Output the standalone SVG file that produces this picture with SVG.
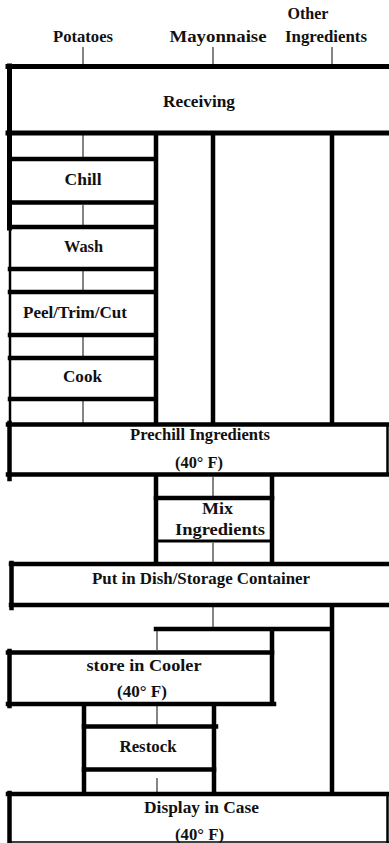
<svg xmlns="http://www.w3.org/2000/svg" width="389" height="843" viewBox="0 0 389 843">
<style>
text{font-family:"Liberation Serif","Times New Roman",serif;font-weight:bold;font-size:17px;fill:#111;text-anchor:middle}
.thick{stroke:#000;stroke-width:4.5;fill:none;stroke-linecap:square}
.edge{stroke:#000;stroke-width:2.5;fill:none}
.thin{stroke:#444;stroke-width:1.3;fill:none}
.hair{stroke:#000;stroke-width:1.6;fill:none}
</style>
<rect width="389" height="843" fill="#fff"/>

<g id="connectors">
  <path class="thin" d="M83 47V64M213 47V64M332 47V64"/>
  <path class="thin" d="M83 135V157M83 205V225M83 271V290M83 337V356M83 401V423"/>
  <path class="thick" d="M156 135V423M213 135V423M332 135V423"/>
  <path class="thick" d="M156 477V562M272 477V562"/>
  <path class="thin" d="M213 477V496M213 543V562"/>
  <path class="thin" d="M213 607V627"/>
  <path class="thick" d="M156 629H332M332 607V792M272 629V702"/>
  <path class="thin" d="M157 631V650"/>
  <path class="thick" d="M84 706V792M214 706V792"/>
  <path class="thin" d="M157 706V725M157 778V792"/>
  <path class="edge" d="M10 229V423"/>
</g>

<g id="labels">
  <text x="83" y="42" textLength="60" lengthAdjust="spacingAndGlyphs">Potatoes</text>
  <text x="218" y="42" textLength="97" lengthAdjust="spacingAndGlyphs">Mayonnaise</text>
  <text x="308" y="19" textLength="41" lengthAdjust="spacingAndGlyphs">Other</text>
  <text x="326" y="42" textLength="82" lengthAdjust="spacingAndGlyphs">Ingredients</text>
</g>

<g id="receiving">
  <path class="thick" d="M8 66.5H389M9.5 66V228M8 133H389" style="stroke-width:5"/>
  <text x="199" y="107" textLength="72" lengthAdjust="spacingAndGlyphs">Receiving</text>
</g>

<g id="chill">
  <path class="thick" d="M10 159H155M10 202.5H155"/>
  <text x="83" y="185" textLength="37" lengthAdjust="spacingAndGlyphs">Chill</text>
</g>

<g id="wash">
  <path class="thick" d="M10 227H155M10 269H155"/>
  <text x="83.5" y="252" textLength="39" lengthAdjust="spacingAndGlyphs">Wash</text>
</g>

<g id="peel">
  <path class="thick" d="M10 292H155M10 335H155"/>
  <text x="75" y="318" textLength="104" lengthAdjust="spacingAndGlyphs">Peel/Trim/Cut</text>
</g>

<g id="cook">
  <path class="thick" d="M10 358H155M10 399H155"/>
  <text x="82.5" y="382" textLength="39" lengthAdjust="spacingAndGlyphs">Cook</text>
</g>

<g id="prechill">
  <path class="thick" d="M8 424.5H389M9.5 423V479M8 474.5H389"/>
  <path class="edge" d="M387.5 424V475"/>
  <text x="200" y="440" textLength="140" lengthAdjust="spacingAndGlyphs">Prechill Ingredients</text>
  <text x="199" y="468" textLength="48" lengthAdjust="spacingAndGlyphs">(40° F)</text>
</g>

<g id="mix">
  <path class="thick" d="M156 498H272"/>
  <path class="thick" d="M156 541H269" style="stroke-width:3"/>
  <text x="217.5" y="514" textLength="31" lengthAdjust="spacingAndGlyphs">Mix</text>
  <text x="220" y="535" textLength="90" lengthAdjust="spacingAndGlyphs">Ingredients</text>
</g>

<g id="dish">
  <path class="thick" d="M11 564H389M11.5 563V608M11 605H389"/>
  <text x="201" y="584" textLength="218" lengthAdjust="spacingAndGlyphs">Put in Dish/Storage Container</text>
</g>

<g id="cooler">
  <path class="thick" d="M8 652.5H272M9.5 651V706M8 704H274"/>
  <text x="144" y="671" textLength="115" lengthAdjust="spacingAndGlyphs">store in Cooler</text>
  <text x="142" y="697" textLength="50" lengthAdjust="spacingAndGlyphs">(40° F)</text>
</g>

<g id="restock">
  <path class="thick" d="M84 726.5H216M84 769.5H214"/>
  <text x="148" y="752" textLength="57" lengthAdjust="spacingAndGlyphs">Restock</text>
</g>

<g id="display">
  <path class="thick" d="M8 794H389M9.5 793V843"/>
  <path class="edge" d="M387.5 794V843"/>
  <path class="hair" d="M9 842H389"/>
  <text x="201.5" y="813" textLength="115" lengthAdjust="spacingAndGlyphs">Display in Case</text>
  <text x="199.5" y="840" textLength="49" lengthAdjust="spacingAndGlyphs">(40° F)</text>
</g>
</svg>
